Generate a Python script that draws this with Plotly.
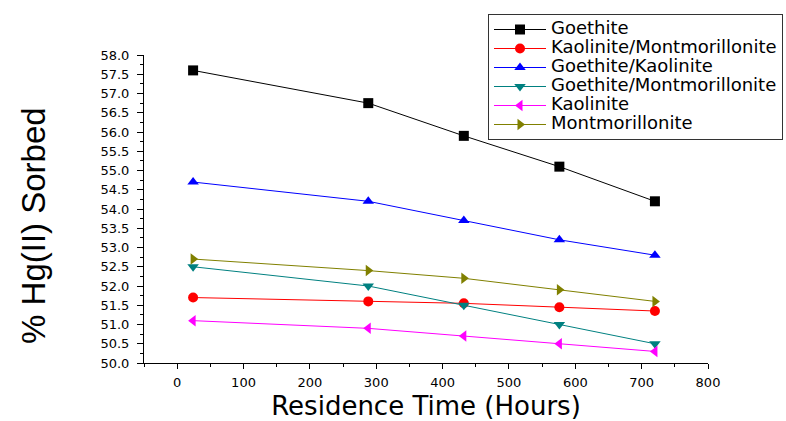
import plotly.graph_objects as go

# Residence time (hours) and % Hg(II) sorbed for each sorbent
hours = [24, 288, 432, 576, 720]
goethite = [57.6, 56.75, 55.9, 55.1, 54.2]
kaol_mont = [51.7, 51.6, 51.55, 51.45, 51.35]
goeth_kaol = [54.7, 54.2, 53.7, 53.2, 52.8]
goeth_mont = [52.5, 52.0, 51.5, 51.0, 50.5]
kaolinite = [51.1, 50.9, 50.7, 50.5, 50.3]
montmorillonite = [52.7, 52.4, 52.2, 51.9, 51.6]

series = [
    ("Goethite", goethite, "#000000", "square"),
    ("Kaolinite/Montmorillonite", kaol_mont, "#FF0000", "circle"),
    ("Goethite/Kaolinite", goeth_kaol, "#0000FF", "triangle-up"),
    ("Goethite/Montmorillonite", goeth_mont, "#008080", "triangle-down"),
    ("Kaolinite", kaolinite, "#FF00FF", "triangle-left"),
    ("Montmorillonite", montmorillonite, "#808000", "triangle-right"),
]

wide = "DejaVu Sans, Verdana, sans-serif"
arial = "Liberation Sans, Arial, sans-serif"

fig = go.Figure()
for name, vals, color, sym in series:
    fig.add_trace(go.Scatter(
        x=hours, y=vals, mode="lines+markers",
        name='<span style="font-size:18px">%s</span>' % name,
        line=dict(color=color, width=1),
        marker=dict(symbol=sym, size=10, color=color),
    ))

# rotated y-axis title
fig.add_annotation(
    text="% Hg(II) Sorbed", textangle=-90, showarrow=False,
    xref="paper", yref="paper", x=-0.195, y=0.445,
    xanchor="center", yanchor="middle",
    font=dict(family=arial, size=33, color="black"),
)

fig.update_layout(
    width=786, height=421,
    margin=dict(l=144, r=78, t=55, b=58, autoexpand=False),
    paper_bgcolor="white", plot_bgcolor="white",
    font=dict(family=wide, color="black", size=13),
    showlegend=True,
    legend=dict(
        xref="container", yref="container",
        x=488 / 786, y=1 - 14 / 421, xanchor="left", yanchor="top",
        bordercolor="#333333", borderwidth=1, bgcolor="white",
        font=dict(size=11.4, family=wide), tracegroupgap=0, itemwidth=52,
    ),
    xaxis=dict(
        range=[-50, 800], showgrid=False, zeroline=False,
        showline=True, linecolor="black", linewidth=1,
        tickmode="array", tickvals=list(range(0, 801, 100)),
        ticks="outside", ticklen=5, tickcolor="black",
        minor=dict(tickvals=list(range(-50, 801, 50)), ticks="outside", ticklen=3, tickcolor="black"),
        tickfont=dict(size=13), ticklabelstandoff=2,
        title=dict(text="Residence Time (Hours)", font=dict(size=26), standoff=17),
    ),
    yaxis=dict(
        range=[50.0, 58.0], showgrid=False, zeroline=False,
        showline=True, linecolor="black", linewidth=1,
        tickmode="linear", tick0=50, dtick=0.5, tickformat=".1f",
        ticks="outside", ticklen=6, tickcolor="black",
        minor=dict(dtick=0.25, ticks="outside", ticklen=3, tickcolor="black"),
        tickfont=dict(size=13), ticklabelstandoff=5,
    ),
)

fig.write_html("out.html")
